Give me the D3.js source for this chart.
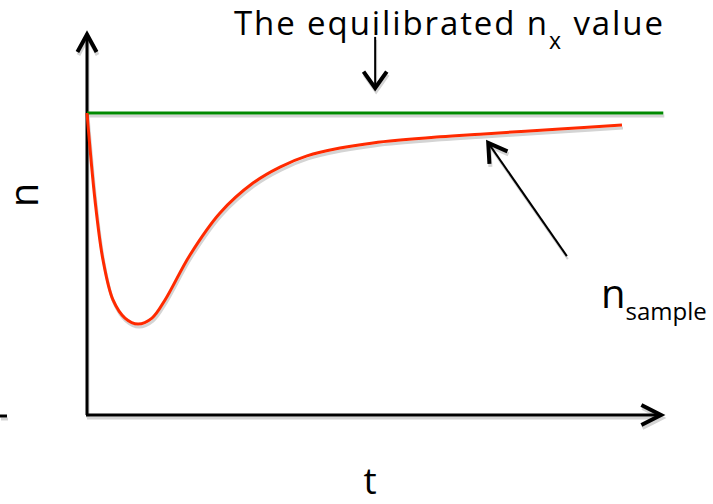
<!DOCTYPE html>
<html>
<head>
<meta charset="utf-8">
<script src="https://cdn.jsdelivr.net/npm/d3@7"></script>
<style>
  body { margin: 0; background: #fff; }
  text { font-family: "Open Sans", sans-serif; fill: #000; }
</style>
</head>
<body>
<div id="chart"></div>
<script>
// curve (t in arbitrary units, n relative to equilibrium)
var tValues = [0, 0.139, 0.279, 0.453, 0.662, 0.889, 1.132, 1.359, 1.794, 2.317, 2.892, 3.362, 3.833, 4.408, 4.983, 6.15, 6.85, 8.24, 9.32];
var nValues = [1.0, 0.712, 0.513, 0.381, 0.321, 0.301, 0.321, 0.381, 0.530, 0.669, 0.768, 0.821, 0.858, 0.884, 0.901, 0.921, 0.930, 0.947, 0.960];
var nEquilibrium = 1.0;
var tMax = 10;
var nMax = 1.26;

var width = 713, height = 504;

var svg = d3.select("#chart").append("svg")
    .attr("width", width)
    .attr("height", height);

var x = d3.scaleLinear().domain([0, tMax]).range([87, 661]);
var y = d3.scaleLinear().domain([0, 1]).range([415, 113]);

var shadow = svg.append("g").attr("transform", "translate(1,3)");
var main = svg.append("g");

// draws everything twice: a grey drop shadow then the real marks
function both(fn) {
  fn(shadow, "#d4d4d4");
  fn(main, null);
}

function arrowHead(g, tip, angle, len, half, color) {
  // angle = direction the arrow points (radians)
  var a1 = angle + Math.PI - half, a2 = angle + Math.PI + half;
  g.append("polyline")
    .attr("points", [
      [tip[0] + len * Math.cos(a1), tip[1] + len * Math.sin(a1)],
      tip,
      [tip[0] + len * Math.cos(a2), tip[1] + len * Math.sin(a2)]
    ].map(p => p.join(",")).join(" "))
    .attr("fill", "none")
    .attr("stroke", color)
    .attr("stroke-width", 4)
    .attr("stroke-linejoin", "miter");
}

var line = d3.line()
    .x(d => x(d[0]))
    .y(d => y(d[1]))
    .curve(d3.curveCatmullRom.alpha(0.5));

var curve = tValues.map((t, i) => [t, nValues[i]]);

both(function(g, c) {
  // axes
  g.append("line")
    .attr("x1", x(0)).attr("y1", y(0))
    .attr("x2", x(0)).attr("y2", y(nMax) + 2)
    .attr("stroke", c || "#000").attr("stroke-width", 3);
  arrowHead(g, [x(0), y(nMax)], -Math.PI / 2, 20, 0.5, c || "#000");

  g.append("line")
    .attr("x1", x(0) - 1).attr("y1", y(0))
    .attr("x2", x(tMax) - 2).attr("y2", y(0))
    .attr("stroke", c || "#000").attr("stroke-width", 3);
  arrowHead(g, [x(tMax), y(0)], 0, 22, 0.47, c || "#000");

  // stray dash at the left edge
  g.append("line")
    .attr("x1", 0).attr("y1", y(0) + 1)
    .attr("x2", 7).attr("y2", y(0) + 1)
    .attr("stroke", c || "#000").attr("stroke-width", 3);

  // equilibrium level
  g.append("line")
    .attr("x1", x(0)).attr("y1", y(nEquilibrium))
    .attr("x2", x(10.04)).attr("y2", y(nEquilibrium))
    .attr("stroke", c || "#008a00").attr("stroke-width", 3);

  // n_sample curve
  g.append("path")
    .datum(curve)
    .attr("d", line)
    .attr("fill", "none")
    .attr("stroke", c || "#ff2a00")
    .attr("stroke-width", 3);

  // arrow under the title
  g.append("line")
    .attr("x1", x(5.02)).attr("y1", y(1.252))
    .attr("x2", x(5.02)).attr("y2", y(1.088))
    .attr("stroke", c || "#000").attr("stroke-width", 2);
  arrowHead(g, [x(5.02), y(1.083)], Math.PI / 2, 20, 0.62, c || "#000");

  // arrow pointing at the curve
  var p0 = [x(8.36), y(0.526)], p1 = [x(6.99), y(0.901)];
  g.append("line")
    .attr("x1", p0[0]).attr("y1", p0[1])
    .attr("x2", p1[0]).attr("y2", p1[1])
    .attr("stroke", c || "#000").attr("stroke-width", 2);
  arrowHead(g, p1, Math.atan2(p1[1] - p0[1], p1[0] - p0[0]), 21, 0.55, c || "#000");
});

// title
var title = svg.append("text").attr("x", 234).attr("y", 35)
    .attr("font-size", 33).attr("letter-spacing", 1.9);
title.append("tspan").text("The equilibrated n");
title.append("tspan").attr("dy", 14).attr("font-size", 23).text("x");
title.append("tspan").attr("dy", -14).text(" value");

// axis labels
svg.append("text")
  .attr("transform", "translate(38,195) rotate(-90)")
  .attr("text-anchor", "middle")
  .attr("font-size", 40)
  .text("n");

svg.append("text")
  .attr("x", 370).attr("y", 494)
  .attr("text-anchor", "middle")
  .attr("font-size", 37)
  .text("t");

var ns = svg.append("text").attr("x", 601).attr("y", 308).attr("font-size", 40);
ns.append("tspan").text("n");
ns.append("tspan").attr("dy", 12).attr("font-size", 24).text("sample");
</script>
</body>
</html>
